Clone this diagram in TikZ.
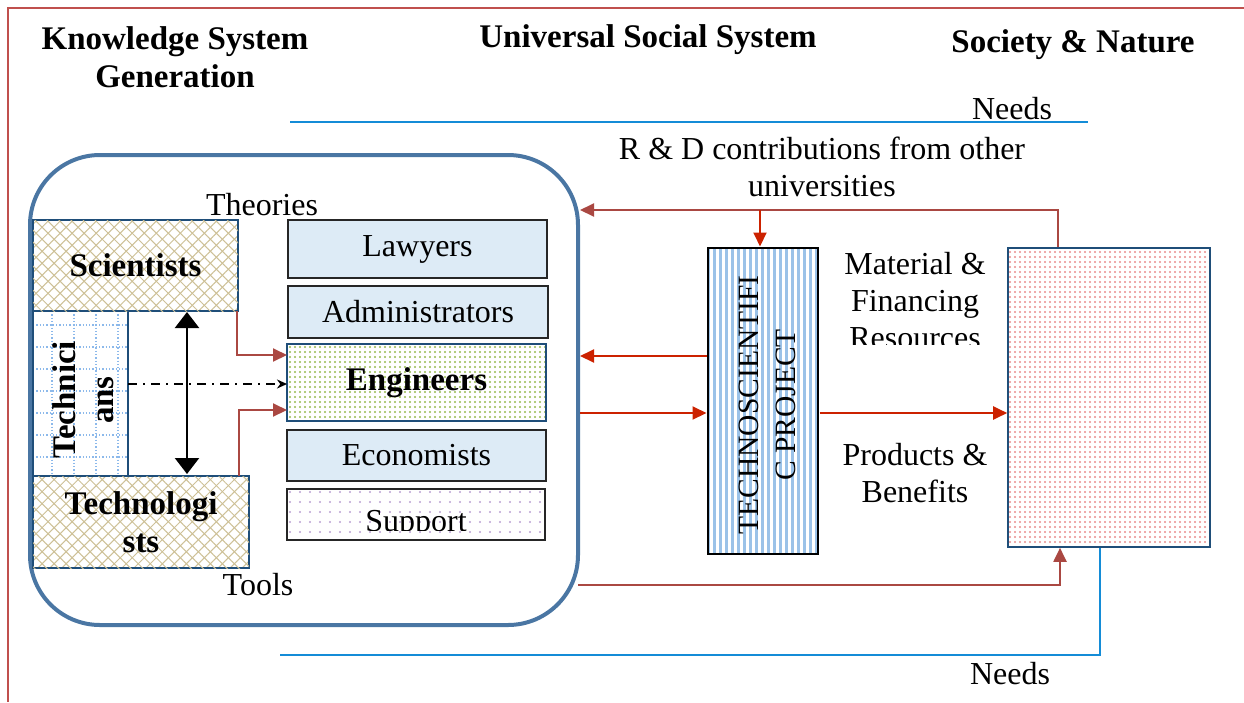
\documentclass[tikz,border=0pt]{standalone}
\usepackage{fontspec}
\setmainfont{Liberation Serif}
\usetikzlibrary{arrows.meta,patterns.meta}
\definecolor{framered}{RGB}{192,80,77}
\definecolor{brownarr}{RGB}{170,72,66}
\definecolor{brightred}{RGB}{204,34,0}
\definecolor{needblue}{RGB}{20,140,215}
\definecolor{bigblue}{RGB}{74,118,163}
\definecolor{darkblue}{RGB}{31,78,121}
\definecolor{boxfill}{RGB}{221,235,246}
\definecolor{tanc}{RGB}{205,192,150}
\definecolor{gridblue}{RGB}{140,185,235}
\definecolor{dotgreen}{RGB}{150,185,80}
\definecolor{dotred}{RGB}{232,140,140}
\definecolor{dotpurple}{RGB}{185,160,210}
\definecolor{stripeblue}{RGB}{155,194,232}
\newcommand\mytxt{\fontsize{32}{37}\selectfont}
\newcommand\mybold{\fontsize{33}{38}\selectfont\bfseries}
\begin{document}
\begin{tikzpicture}[x=1pt,y=-1pt,
  lbl/.style={inner sep=0pt,align=center,font=\mytxt},
  ttl/.style={inner sep=0pt,align=center,font=\mybold},
  plainbox/.style={draw=black!85,line width=1.5pt,fill=boxfill,inner sep=0pt,font=\mytxt},
  hatchbox/.style={draw=darkblue,line width=1.5pt,inner sep=0pt,align=center,font=\mybold,
     pattern={Lines[angle=45,distance=8.5pt,line width=1pt]},pattern color=tanc,
     postaction={pattern={Lines[angle=-45,distance=8.5pt,line width=1pt]},pattern color=tanc}},
  brarrow/.style={draw=brownarr,line width=2pt,-{Triangle[length=14pt,width=13pt]}},
  rdarrow/.style={draw=brightred,line width=2pt,-{Triangle[length=14pt,width=13pt]}},
  needline/.style={draw=needblue,line width=1.6pt},
]
\useasboundingbox (0,0) rectangle (1244,702);
% frame
\draw[framered,line width=1.6pt] (1244,8) -- (8,8) -- (8,702);
% titles
\node[ttl] (t1) at (175,57) {Knowledge System\\Generation};
\node[ttl] (t2) at (648,40) {Universal Social System};
\node[ttl] (t3) at (1073,45) {Society \& Nature};
% needs top
\node[lbl] (needs1) at (1012,109) {Needs};
\coordinate (nl1) at (290,122);
\coordinate (nl2) at (1088,122);
\draw[needline] (nl1) -- (nl2);
\node[lbl] (rd) at (822,167) {R \& D contributions from other\\universities};
% big rounded rectangle
\node[draw=bigblue,line width=4pt,rounded corners=70pt,minimum width=548pt,minimum height=470pt,inner sep=0pt] (big) at (304,390) {};
\node[lbl] (theo) at (262,205) {Theories};
\node[lbl] (tools) at (258,585) {Tools};
% technicians
\node[draw=darkblue,line width=1.5pt,minimum width=95pt,minimum height=165pt,inner sep=0pt] (tech) at (80.5,393.5) {};
\begin{scope}
\clip (34,312) rectangle (127,475);
\foreach \xx in {52,74,96,118} \draw[gridblue,line width=1.3pt,dotted] (\xx,311) -- (\xx,476);
\foreach \yy in {325,347,369,391,413,435,457} \draw[gridblue,line width=1.3pt,dotted] (33,\yy) -- (128,\yy);
\end{scope}
\node[ttl,rotate=90] (techtxt) at (83,400) {Technici\\ans};
% scientists / technologists
\node[hatchbox,minimum width=205pt,minimum height=91pt] (sci) at (135.5,265.5) {Scientists};
\node[hatchbox,minimum width=216pt,minimum height=92pt] (tlg) at (141,522) {Technologi\\sts};
% column
\node[plainbox,minimum width=259pt,minimum height=58pt] (law) at (417.5,249) {Lawyers};
\node[plainbox,minimum width=260pt,minimum height=52pt] (adm) at (418,312) {Administrators};
\node[draw=darkblue,line width=1.5pt,minimum width=259pt,minimum height=77pt,inner sep=0pt,font=\mybold,
  pattern={Dots[distance=5pt,radius=1.2pt]},pattern color=dotgreen] (eng) at (416.5,382.5) {Engineers};
\node[plainbox,minimum width=259pt,minimum height=51pt] (eco) at (416.5,455.5) {Economists};
\node[draw=black!85,line width=1.5pt,minimum width=258pt,minimum height=51pt,inner sep=0pt,
  pattern={Dots[distance=10pt,radius=1.1pt]},pattern color=dotpurple] (sup) at (416,514.5) {};
\begin{scope}
\clip (288,490) rectangle (544,530);
\node[lbl] (suptxt) at (416,524) {Support};
\end{scope}
% internal arrows
\coordinate (e1) at (287,355);
\coordinate (e2) at (287,410);
\coordinate (s1) at (237,311);
\coordinate (g1) at (239,476);
\draw[brarrow] (s1) |- (e1);
\draw[brarrow] (g1) |- (e2);
\coordinate (da) at (187,312);
\coordinate (db) at (187,474);
\draw[line width=2.2pt,{Triangle[length=16pt,width=24pt]}-{Triangle[length=16pt,width=24pt]}] (da) -- (db);
\coordinate (dd1) at (128,384);
\coordinate (dd2) at (287,384);
\draw[line width=1.6pt,dash pattern=on 9pt off 6pt on 2pt off 6pt,-{Stealth[length=10pt,width=9pt]}] (dd1) -- (dd2);
% project box
\node[draw=black,line width=1.2pt,minimum width=110pt,minimum height=306pt,inner sep=0pt,
  pattern={Lines[angle=90,distance=6pt,line width=3pt]},pattern color=stripeblue] (proj) at (763,401) {};
\node[inner sep=0pt,align=center,font=\fontsize{29.5}{37}\selectfont,rotate=90] (projtxt) at (767,405) {TECHNOSCIENTIFI\\C PROJECT};
% society box
\node[draw=darkblue,line width=1.6pt,minimum width=202pt,minimum height=299pt,inner sep=0pt,
  pattern={Dots[distance=5pt,radius=1.2pt]},pattern color=dotred] (soc) at (1109,397.5) {};
% labels on right
\begin{scope}
\clip (820,230) rectangle (1000,344);
\node[lbl] (mat) at (915,301) {Material \&\\Financing\\Resources};
\end{scope}
\node[lbl] (prod) at (915,473) {Products \&\\Benefits};
% connectors
\coordinate (rt) at (1058,210);
\coordinate (bigr1) at (580,210);
\coordinate (br) at (760,210);
\draw[brarrow] (soc.north -| rt) |- (bigr1);
\draw[rdarrow] (br) -- (proj.north -| br);
\coordinate (l1) at (580,356);
\coordinate (l2) at (580,413);
\draw[rdarrow] (proj.west |- l1) -- (l1);
\draw[rdarrow] (l2) -- (proj.west |- l2);
\draw[rdarrow] (proj.east |- l2) -- (soc.west |- l2);
\coordinate (bb1) at (578,585);
\coordinate (bb2) at (1060,585);
\draw[brarrow] (bb1) -| (soc.south -| bb2);
\coordinate (nb1) at (1100,655);
\coordinate (nb2) at (280,655);
\draw[needline] (soc.south -| nb1) -- (nb1) -- (nb2);
\node[lbl] (needs2) at (1010,674) {Needs};
\end{tikzpicture}
\end{document}
